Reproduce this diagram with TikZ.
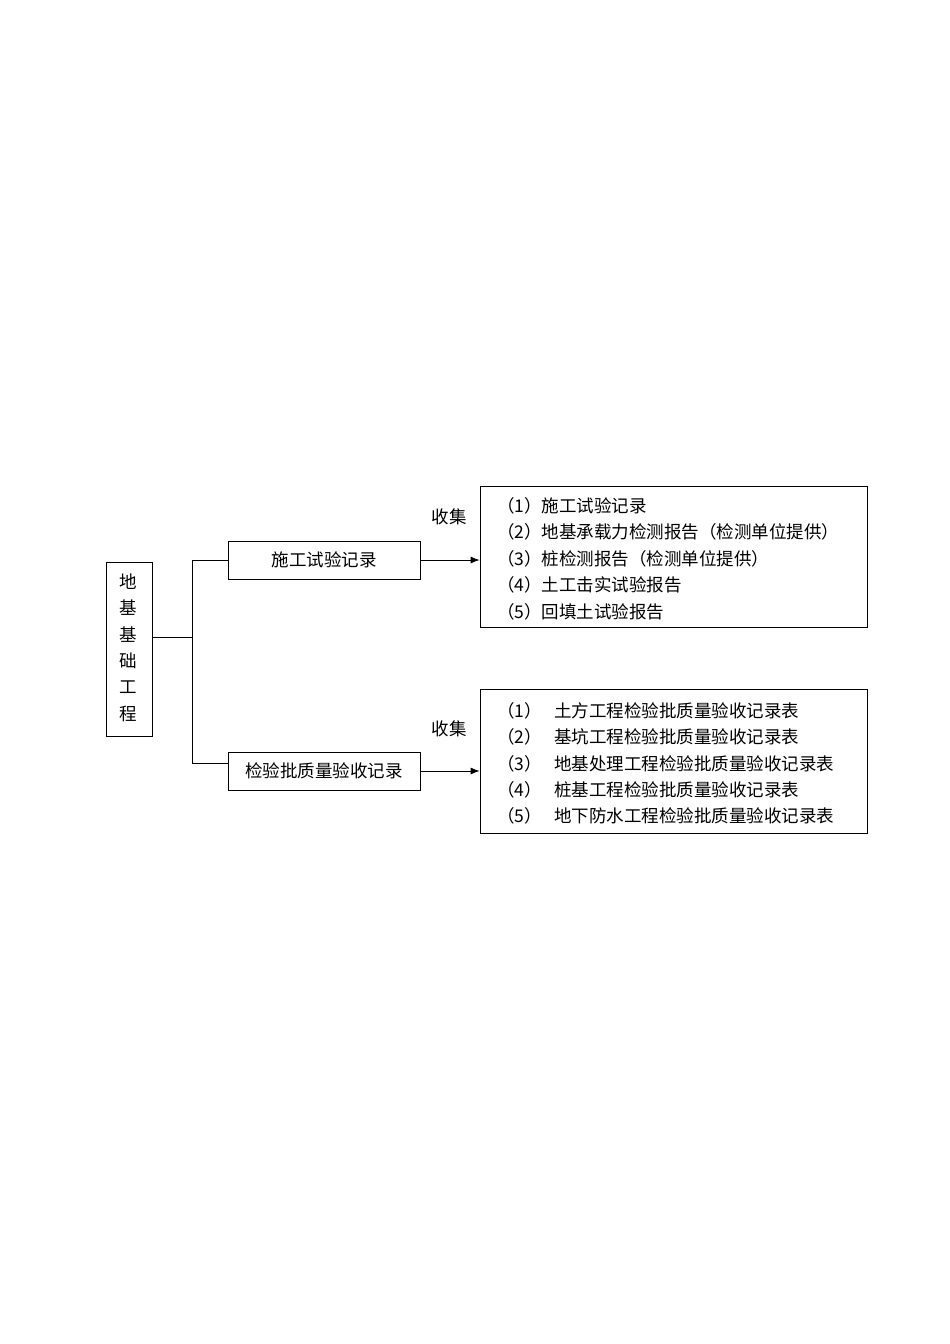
\documentclass[tikz,border=0pt]{standalone}
\usepackage{fontspec}
\setmainfont{Noto Sans CJK SC}
\usetikzlibrary{arrows.meta}
\begin{document}
\begin{tikzpicture}[x=1pt,y=-1pt,
  bx/.style={draw,line width=0.8pt,inner sep=0pt},
  f/.style={font=\fontsize{17.5}{20}\selectfont},
  t/.style={anchor=west,inner sep=0pt,f},
  ln/.style={line width=0.8pt}]
\useasboundingbox (0,0) rectangle (950,1344);
\node[bx,minimum width=46,minimum height=174] (root) at (129,649) {};
\foreach \c [count=\i] in {地,基,基,础,工,程}
  \node[f] at (128,555+26.5*\i) {\c};
\node[bx,minimum width=192,minimum height=38,f] (a) at (324,560) {施工试验记录};
\node[bx,minimum width=192,minimum height=38,f] (b) at (324,771) {检验批质量验收记录};
\coordinate (j) at (192,637);
\draw[ln] (root.east|-j) -- (j);
\draw[ln] (192,560) -- (192,763);
\draw[ln] (192,560) -- (a.west);
\draw[ln] (192,763) -- (b.west|-192,763);
\node[bx,minimum width=387,minimum height=141] (r1) at (673.5,556.5) {};
\node[bx,minimum width=387,minimum height=144] (r2) at (673.5,761) {};
\draw[ln,-{Latex[length=9pt,width=7pt]}] (a.east) -- (r1.west|-a.east);
\draw[ln,-{Latex[length=9pt,width=7pt]}] (b.east) -- (r2.west|-b.east);
\node[f] (s1) at (449,517) {收集};
\node[f] (s2) at (449,729) {收集};
\node[t] (p1) at (497,506) {（1）施工试验记录};
\node[t] (p2) at (497,532) {（2）地基承载力检测报告（检测单位提供）};
\node[t] (p3) at (497,559) {（3）桩检测报告（检测单位提供）};
\node[t] (p4) at (497,585) {（4）土工击实试验报告};
\node[t] (p5) at (497,612) {（5）回填土试验报告};
\foreach \n/\s [count=\i] in {1/土方工程检验批质量验收记录表,2/基坑工程检验批质量验收记录表,3/地基处理工程检验批质量验收记录表,4/桩基工程检验批质量验收记录表,5/地下防水工程检验批质量验收记录表}{
  \node[t] (q\i) at (497,684.5+26.3*\i) {（\n）};
  \node[t] (w\i) at (554,684.5+26.3*\i) {\s};
}
\end{tikzpicture}
\end{document}
